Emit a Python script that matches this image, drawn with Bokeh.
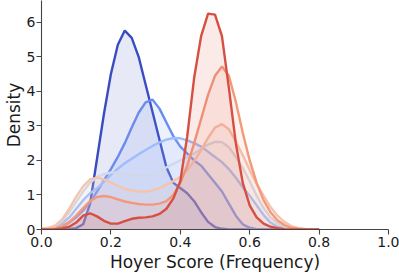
from bokeh.plotting import figure
from bokeh.models import Range1d, FixedTicker
from bokeh.embed import file_html
from bokeh.resources import INLINE

# Hoyer score grid (x) and KDE density values per series
hoyer_score = [0.00, 0.02, 0.04, 0.06, 0.08, 0.10, 0.12, 0.14, 0.16, 0.18,
               0.20, 0.22, 0.24, 0.26, 0.28, 0.30, 0.32, 0.34, 0.36, 0.38,
               0.40, 0.42, 0.44, 0.46, 0.48, 0.50, 0.52, 0.54, 0.56, 0.58,
               0.60, 0.62, 0.64, 0.66, 0.68, 0.70, 0.72, 0.74, 0.76, 0.78, 0.80]

density_1 = [0.00, 0.00, 0.00, 0.00, 0.01, 0.04, 0.15, 0.75, 2.05, 3.35,
             4.50, 5.35, 5.76, 5.55, 5.00, 4.20, 3.40, 2.60, 1.80, 1.35,
             1.20, 1.05, 0.82, 0.50, 0.22, 0.07, 0.02, 0.00, 0.00, 0.00,
             0.00, 0.00, 0.00, 0.00, 0.00, 0.00, 0.00, 0.00, 0.00, 0.00, 0.00]

density_2 = [0.00, 0.00, 0.02, 0.08, 0.20, 0.35, 0.55, 0.80, 1.10, 1.42,
             1.75, 2.10, 2.50, 2.95, 3.38, 3.68, 3.76, 3.50, 3.10, 2.70,
             2.40, 2.20, 2.00, 1.85, 1.60, 1.35, 1.10, 0.75, 0.40, 0.15,
             0.05, 0.01, 0.00, 0.00, 0.00, 0.00, 0.00, 0.00, 0.00, 0.00, 0.00]

density_3 = [0.00, 0.02, 0.06, 0.18, 0.35, 0.60, 0.85, 1.05, 1.20, 1.38,
             1.58, 1.76, 1.92, 2.05, 2.18, 2.30, 2.42, 2.52, 2.60, 2.65,
             2.64, 2.58, 2.50, 2.40, 2.25, 2.10, 1.95, 1.75, 1.50, 1.22,
             0.98, 0.70, 0.42, 0.20, 0.08, 0.03, 0.01, 0.00, 0.00, 0.00, 0.00]

density_4 = [0.01, 0.04, 0.10, 0.25, 0.50, 0.80, 1.10, 1.35, 1.52, 1.60,
             1.65, 1.65, 1.62, 1.58, 1.55, 1.55, 1.60, 1.70, 1.80, 1.90,
             2.00, 2.10, 2.20, 2.33, 2.46, 2.54, 2.53, 2.38, 2.10, 1.78,
             1.40, 0.98, 0.62, 0.35, 0.18, 0.08, 0.03, 0.01, 0.00, 0.00, 0.00]

density_5 = [0.02, 0.05, 0.12, 0.30, 0.60, 0.95, 1.25, 1.45, 1.50, 1.45,
             1.36, 1.26, 1.18, 1.13, 1.10, 1.10, 1.13, 1.20, 1.30, 1.40,
             1.52, 1.72, 1.98, 2.30, 2.65, 2.95, 3.05, 2.90, 2.55, 2.15,
             1.72, 1.32, 0.98, 0.65, 0.40, 0.22, 0.10, 0.04, 0.015, 0.005, 0.00]

density_6 = [0.00, 0.01, 0.03, 0.10, 0.22, 0.40, 0.62, 0.82, 0.94, 0.97,
             0.94, 0.87, 0.81, 0.77, 0.74, 0.72, 0.72, 0.75, 0.82, 1.00,
             1.35, 1.85, 2.50, 3.20, 3.90, 4.45, 4.72, 4.45, 3.70, 2.80,
             2.00, 1.35, 0.85, 0.50, 0.27, 0.13, 0.05, 0.02, 0.005, 0.00, 0.00]

density_7 = [0.00, 0.00, 0.01, 0.03, 0.08, 0.20, 0.40, 0.47, 0.38, 0.25,
             0.17, 0.17, 0.24, 0.31, 0.34, 0.35, 0.38, 0.45, 0.60, 0.90,
             1.40, 2.70, 4.40, 5.60, 6.25, 6.22, 5.60, 4.10, 2.50, 1.35,
             0.70, 0.35, 0.17, 0.08, 0.04, 0.01, 0.00, 0.00, 0.00, 0.00, 0.00]

series = [density_1, density_2, density_3, density_4, density_5, density_6, density_7]
colors = ["#3a4cc0", "#6a8bef", "#9dbdfd", "#d0d9e8", "#f5c4ac", "#f4987a", "#d64f42"]

x_ticks = [0.0, 0.2, 0.4, 0.6, 0.8, 1.0]
x_tick_labels = ["0.0", "0.2", "0.4", "0.6", "0.8", "1.0"]
y_ticks = [0, 1, 2, 3, 4, 5, 6]
y_tick_labels = ["0", "1", "2", "3", "4", "5", "6"]

p = figure(width=399, height=274, output_backend="svg", toolbar_location=None,
           x_range=Range1d(0, 1), y_range=Range1d(0, 6.63),
           min_border_left=0, min_border_right=11, min_border_top=0,
           min_border_bottom=0)
p.outline_line_color = None
p.grid.visible = False
p.background_fill_color = "white"

for vals, col in zip(series, colors):
    p.varea(x=hoyer_score, y1=[0] * len(vals), y2=vals, fill_color=col, fill_alpha=0.12)
    p.line(x=hoyer_score, y=vals, line_color=col, line_width=2.4)

p.xaxis.ticker = FixedTicker(ticks=x_ticks)
p.xaxis.major_label_overrides = {t: l for t, l in zip(x_ticks, x_tick_labels)}
p.yaxis.ticker = FixedTicker(ticks=y_ticks)
p.yaxis.major_label_overrides = {t: l for t, l in zip(y_ticks, y_tick_labels)}

for ax in (p.xaxis, p.yaxis):
    ax.axis_line_color = "#444444"
    ax.axis_line_width = 1.1
    ax.major_tick_line_color = "#444444"
    ax.major_tick_line_width = 1.1
    ax.major_tick_out = 5
    ax.major_tick_in = 0
    ax.minor_tick_line_color = None
    ax.major_label_text_font = "DejaVu Sans"
    ax.major_label_text_font_size = "14px"
    ax.major_label_text_color = "#1a1a1a"
    ax.major_label_standoff = 2
    ax.axis_label_text_font = "DejaVu Sans"
    ax.axis_label_text_font_size = "17px"
    ax.axis_label_text_font_style = "normal"
    ax.axis_label_text_color = "#1a1a1a"
    ax.axis_label_standoff = 2

p.yaxis.major_label_standoff = 1
p.yaxis.axis_label_standoff = 0

p.xaxis.axis_label = "Hoyer Score (Frequency)"
p.yaxis.axis_label = "Density"

open("out.html", "w").write(file_html(p, INLINE))
